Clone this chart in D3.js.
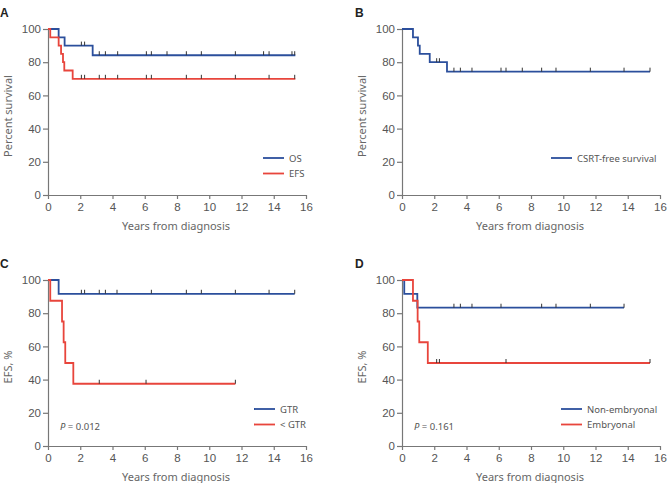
<!DOCTYPE html>
<html>
<head>
<meta charset="utf-8">
<script src="https://cdn.jsdelivr.net/npm/d3@7"></script>
<style>
	body { margin: 0; background: #fff; }
	svg { display: block; }
	.tick text { font-family: "Liberation Sans", Arial, sans-serif; font-size: 11.5px; fill: #555; }
	.title { font-family: "Noto Sans", sans-serif; font-size: 11px; fill: #666; }
	.legend { font-family: "Noto Sans", sans-serif; font-size: 9.5px; fill: #555; }
	.panel { font-family: "Liberation Sans", Arial, sans-serif; font-size: 12px; font-weight: bold; fill: #222; }
</style>
</head>
<body>
<script>
"use strict";

const BLUE = "#2b4f9c";
const RED = "#e8453c";

const xTicks = [0, 2, 4, 6, 8, 10, 12, 14, 16];
const yTicks = [0, 20, 40, 60, 80, 100];

// A: OS / EFS
const osEvents = [0.66, 1.03, 2.77];
const osSurv = [95, 90, 84.2];
const osCensor = [2.07, 2.27, 3.18, 3.56, 4.32, 6.10, 6.41, 7.38, 8.58, 9.51, 11.62, 13.37, 13.71, 15.13, 15.30];
const osEnd = 15.34;

const efsEvents = [0.14, 0.66, 0.81, 0.93, 1.01, 1.53];
const efsSurv = [95, 90, 85, 80, 75, 70];
const efsCensor = [2.07, 2.27, 3.18, 3.56, 4.32, 6.10, 6.41, 8.58, 9.51, 11.62, 13.71, 15.30];
const efsEnd = 15.34;

// B: CSRT-free survival
const csrtEvents = [0.68, 0.99, 1.10, 1.72, 2.79];
const csrtSurv = [95, 90, 85, 80, 74.3];
const csrtCensor = [2.15, 2.32, 3.22, 3.62, 4.34, 6.14, 6.45, 7.46, 8.66, 9.55, 11.68, 13.77, 15.38];
const csrtEnd = 15.38;

// C: GTR vs < GTR
const gtrEvents = [0.66];
const gtrSurv = [91.7];
const gtrCensor = [2.07, 2.27, 3.18, 3.56, 4.28, 6.41, 8.58, 9.51, 11.62, 13.71, 15.30];
const gtrEnd = 15.30;

const subEvents = [0.14, 0.87, 0.97, 1.07, 1.57];
const subSurv = [87.5, 75, 62.5, 50, 37.5];
const subCensor = [3.18, 6.08, 11.62];
const subEnd = 11.62;

// D: non-embryonal vs embryonal
const nonEmbEvents = [0.14, 0.95];
const nonEmbSurv = [91.7, 83.3];
const nonEmbCensor = [3.22, 3.62, 4.34, 6.14, 8.66, 9.55, 11.68, 13.77];
const nonEmbEnd = 13.77;

const embEvents = [0.68, 0.97, 1.07, 1.60];
const embSurv = [87.5, 75, 62.5, 50];
const embCensor = [2.15, 2.32, 6.45, 15.38];
const embEnd = 15.38;

function curve(events, surv, censor, end, color, name) {
	return {events, surv, censor, end, color, name};
}

const panels = [
	{letter: "A", lx: 0, left: 48, top: 29, ytitle: "Percent survival", legendX: 263, p: null,
		curves: [curve(osEvents, osSurv, osCensor, osEnd, BLUE, "OS"), curve(efsEvents, efsSurv, efsCensor, efsEnd, RED, "EFS")]},
	{letter: "B", lx: 355, left: 402, top: 29, ytitle: "Percent survival", legendX: 551, p: null,
		curves: [curve(csrtEvents, csrtSurv, csrtCensor, csrtEnd, BLUE, "CSRT-free survival")]},
	{letter: "C", lx: 0, left: 48, top: 280, ytitle: "EFS, %", legendX: 254, p: "0.012",
		curves: [curve(gtrEvents, gtrSurv, gtrCensor, gtrEnd, BLUE, "GTR"), curve(subEvents, subSurv, subCensor, subEnd, RED, "< GTR")]},
	{letter: "D", lx: 355, left: 402, top: 280, ytitle: "EFS, %", legendX: 561, p: "0.161",
		curves: [curve(nonEmbEvents, nonEmbSurv, nonEmbCensor, nonEmbEnd, BLUE, "Non-embryonal"), curve(embEvents, embSurv, embCensor, embEnd, RED, "Embryonal")]}
];

const W = 258, H = 166;

const svg = d3.select("body").append("svg").attr("width", 667).attr("height", 483);
svg.append("rect").attr("width", 667).attr("height", 483).attr("fill", "#fff");

function survAt(c, t) {
	let s = 100;
	for (let i = 0; i < c.events.length; i++) {
		if (c.events[i] <= t) s = c.surv[i];
	}
	return s;
}

for (let p of panels) {
	const x = d3.scaleLinear().domain([0, 16]).range([p.left, p.left + W]);
	const y = d3.scaleLinear().domain([0, 100]).range([p.top + H, p.top]);

	svg.append("text").attr("class", "panel")
		.attr("x", p.lx).attr("y", p.top - 12)
		.text(p.letter);

	let ya = svg.append("g").attr("transform", `translate(${p.left},0)`)
		.call(d3.axisLeft(y).tickValues(yTicks).tickSize(5).tickPadding(2));
	let xa = svg.append("g").attr("transform", `translate(0,${p.top + H})`)
		.call(d3.axisBottom(x).tickValues(xTicks).tickSize(4).tickPadding(4));
	for (let a of [ya, xa]) {
		a.selectAll("path, line").attr("stroke", "#777").attr("stroke-width", 1.2);
	}
	xa.select(".domain").attr("d", `M${p.left - 5},0.5H${p.left + W}`);
	ya.select(".domain").attr("d", `M0.5,${p.top + H}V${p.top}`);

	svg.append("text").attr("class", "title")
		.attr("transform", `translate(${p.left - 36},${p.top + H / 2 + 4}) rotate(-90)`)
		.attr("text-anchor", "middle")
		.text(p.ytitle);
	svg.append("text").attr("class", "title")
		.attr("x", p.left + W / 2 - 1).attr("y", p.top + H + 35)
		.attr("text-anchor", "middle")
		.text("Years from diagnosis");

	const line = d3.line().x(d => x(d[0])).y(d => y(d[1])).curve(d3.curveStepAfter);

	for (let c of p.curves) {
		let pts = [[0, 100]];
		c.events.forEach((t, i) => pts.push([t, c.surv[i]]));
		pts.push([c.end, c.surv[c.surv.length - 1]]);
		svg.append("path").attr("d", line(pts))
			.attr("fill", "none").attr("stroke", c.color).attr("stroke-width", 1.8);
		svg.append("g").selectAll("line").data(c.censor).join("line")
			.attr("x1", d => x(d)).attr("x2", d => x(d))
			.attr("y1", d => y(survAt(c, d)) - 4).attr("y2", d => y(survAt(c, d)))
			.attr("stroke", "#333").attr("stroke-width", 1);
	}

	// legend
	p.curves.forEach((c, i) => {
		const ly = p.top + 129 + i * 15.5;
		svg.append("line").attr("x1", p.legendX).attr("x2", p.legendX + 21)
			.attr("y1", ly).attr("y2", ly)
			.attr("stroke", c.color).attr("stroke-width", 1.8);
		svg.append("text").attr("class", "legend")
			.attr("x", p.legendX + 26).attr("y", ly + 3.5)
			.text(c.name);
	});

	if (p.p) {
		const t = svg.append("text").attr("class", "legend")
			.attr("x", p.left + 12).attr("y", p.top + 150);
		t.append("tspan").attr("font-style", "italic").text("P");
		t.append("tspan").text(" = " + p.p);
	}
}
</script>
</body>
</html>
